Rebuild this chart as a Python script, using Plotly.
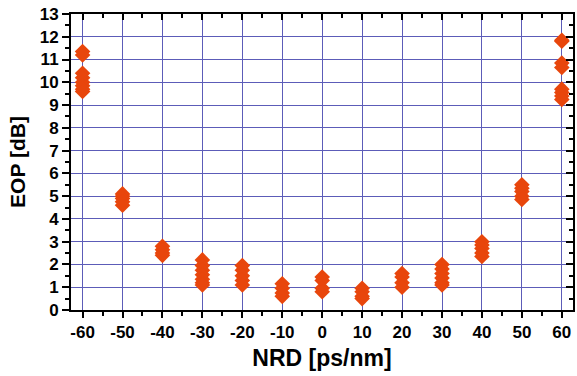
import plotly.graph_objects as go

nrd = [-60, -50, -40, -30, -20, -10, 0, 10, 20, 30, 40, 50, 60]
eop = [
    [11.35, 11.2, 10.4, 10.2, 10.0, 9.85, 9.7, 9.6],
    [5.1, 5.0, 4.9, 4.75, 4.6],
    [2.8, 2.65, 2.5, 2.4],
    [2.2, 1.95, 1.75, 1.55, 1.35, 1.2, 1.1],
    [1.95, 1.75, 1.5, 1.3, 1.1],
    [1.15, 0.95, 0.75, 0.6],
    [1.45, 1.3, 0.95, 0.8],
    [0.95, 0.8, 0.6, 0.5],
    [1.6, 1.45, 1.2, 1.0],
    [2.0, 1.8, 1.6, 1.4, 1.2, 1.1],
    [3.0, 2.85, 2.7, 2.5, 2.35],
    [5.5, 5.35, 5.2, 5.0, 4.85],
    [11.85, 11.8, 10.85, 10.65, 9.7, 9.55, 9.4, 9.25],
]
x_ticks = [-60, -50, -40, -30, -20, -10, 0, 10, 20, 30, 40, 50, 60]
y_ticks = list(range(0, 14))

xs, ys = [], []
for xv, vals in zip(nrd, eop):
    for v in vals:
        xs.append(xv)
        ys.append(v)

fig = go.Figure()
fig.add_trace(go.Scatter(
    x=xs, y=ys, mode="markers",
    marker=dict(symbol="diamond", size=12, color="#E8460C", line=dict(width=0)),
    showlegend=False, cliponaxis=False,
))
# dummy trace to attach mirrored top/right axes
fig.add_trace(go.Scatter(x=[None], y=[None], xaxis="x2", yaxis="y2",
                         showlegend=False, hoverinfo="skip"))

XR = [-62.9, 62.8]
YR = [0, 13]
grid = "#5c5cb8"
font = "Liberation Sans, Arial, sans-serif"

fig.update_layout(
    width=577, height=376,
    margin=dict(l=71, r=4, t=14, b=66),
    paper_bgcolor="white", plot_bgcolor="white",
    font=dict(family=font, color="black"),
    xaxis=dict(
        range=XR, tickmode="array", tickvals=x_ticks, automargin=False,
        ticktext=[str(t) for t in x_ticks], ticklabeloverflow="allow",
        showgrid=True, gridcolor=grid, gridwidth=1,
        zeroline=False, showline=True, linecolor="black", linewidth=2,
        mirror=True, ticks="outside", ticklen=6, tickwidth=1.5, tickcolor="black",
        minor=dict(dtick=5, tick0=-60, ticks="outside", ticklen=4, tickwidth=1.5,
                   tickcolor="black", showgrid=False),
        tickfont=dict(size=17, weight="bold", family=font),
        title=dict(text="NRD [ps/nm]", font=dict(size=23, weight="bold", family=font),
                   standoff=8),
    ),
    yaxis=dict(
        range=YR, tickmode="array", tickvals=y_ticks, automargin=False,
        ticktext=[str(t) for t in y_ticks], ticklabeloverflow="allow",
        showgrid=True, gridcolor=grid, gridwidth=1,
        zeroline=False, showline=True, linecolor="black", linewidth=2,
        mirror=True, ticks="outside", ticklen=7, tickwidth=1.5, tickcolor="black",
        minor=dict(dtick=0.5, tick0=0, ticks="outside", ticklen=4, tickwidth=1.5,
                   tickcolor="black", showgrid=False),
        tickfont=dict(size=17, weight="bold", family=font),
        title=dict(text="EOP [dB]", font=dict(size=21, weight="bold", family=font),
                   standoff=8),
    ),
    xaxis2=dict(
        range=XR, overlaying="x", side="top", anchor="y2", automargin=False,
        tickmode="array", tickvals=x_ticks, showticklabels=False,
        showgrid=False, zeroline=False, showline=False,
        ticks="inside", ticklen=6, tickwidth=1.5, tickcolor="black",
        minor=dict(dtick=5, tick0=-60, ticks="inside", ticklen=4, tickwidth=1.5,
                   tickcolor="black", showgrid=False),
    ),
    yaxis2=dict(
        range=YR, overlaying="y", side="right", anchor="x2", automargin=False,
        tickmode="array", tickvals=y_ticks, showticklabels=False,
        showgrid=False, zeroline=False, showline=False,
        ticks="inside", ticklen=7, tickwidth=1.5, tickcolor="black",
        minor=dict(dtick=0.5, tick0=0, ticks="inside", ticklen=4, tickwidth=1.5,
                   tickcolor="black", showgrid=False),
    ),
)

# remove the default 8px page margin so the figure fills the window exactly
fig.write_html("out.html", config={"displayModeBar": False},
               post_script="document.body.style.margin='0';")
